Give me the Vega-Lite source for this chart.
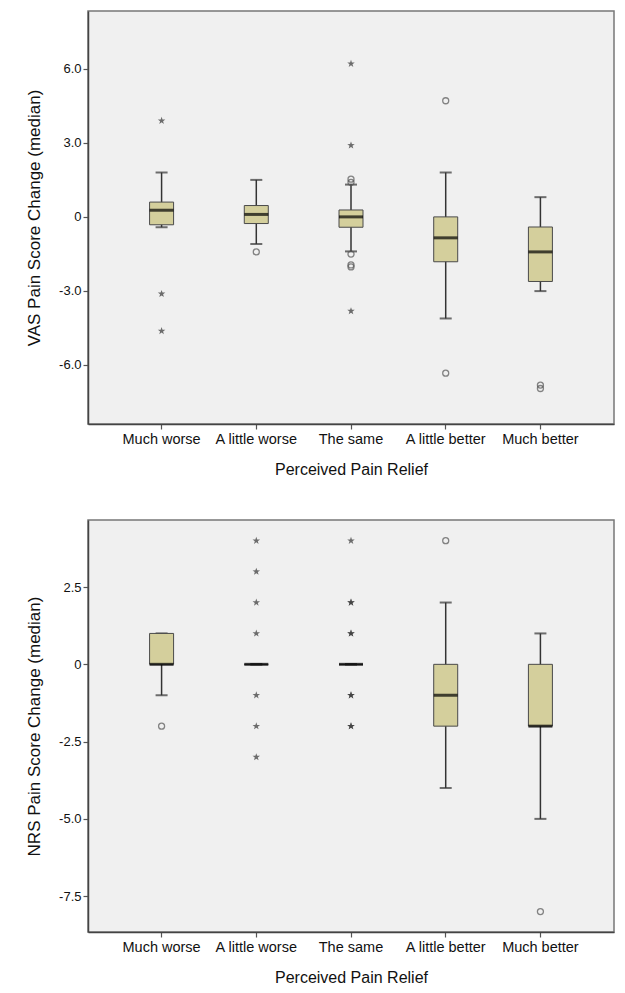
{
  "$schema": "https://vega.github.io/schema/vega-lite/v6.json",
  "background": "white",
  "padding": {"left": 24, "top": 10, "right": 5, "bottom": 5},
  "datasets": {
    "vasBox": [
      {"cat": "Much worse", "lo": -0.42, "q1": -0.32, "med": 0.27, "q3": 0.6, "hi": 1.8},
      {"cat": "A little worse", "lo": -1.1, "q1": -0.27, "med": 0.1, "q3": 0.46, "hi": 1.5},
      {"cat": "The same", "lo": -1.4, "q1": -0.42, "med": 0.0, "q3": 0.28, "hi": 1.31},
      {"cat": "A little better", "lo": -4.12, "q1": -1.82, "med": -0.85, "q3": 0.0, "hi": 1.8},
      {"cat": "Much better", "lo": -3.01, "q1": -2.62, "med": -1.42, "q3": -0.41, "hi": 0.8}
    ],
    "vasOut": [
      {"cat": "Much worse", "v": 3.9, "kind": "star"},
      {"cat": "Much worse", "v": -3.12, "kind": "star"},
      {"cat": "Much worse", "v": -4.63, "kind": "star"},
      {"cat": "A little worse", "v": -1.42, "kind": "circle"},
      {"cat": "The same", "v": 6.21, "kind": "star"},
      {"cat": "The same", "v": 2.9, "kind": "star"},
      {"cat": "The same", "v": 1.53, "kind": "circle"},
      {"cat": "The same", "v": 1.4, "kind": "circle"},
      {"cat": "The same", "v": -1.51, "kind": "circle"},
      {"cat": "The same", "v": -1.95, "kind": "circle"},
      {"cat": "The same", "v": -2.03, "kind": "circle"},
      {"cat": "The same", "v": -3.82, "kind": "star"},
      {"cat": "A little better", "v": 4.71, "kind": "circle"},
      {"cat": "A little better", "v": -6.34, "kind": "circle"},
      {"cat": "Much better", "v": -6.82, "kind": "circle"},
      {"cat": "Much better", "v": -6.96, "kind": "circle"}
    ],
    "nrsBox": [
      {"cat": "Much worse", "lo": -1, "q1": 0, "med": 0, "q3": 1, "hi": 1},
      {"cat": "A little worse", "lo": 0, "q1": 0, "med": 0, "q3": 0, "hi": 0},
      {"cat": "The same", "lo": 0, "q1": 0, "med": 0, "q3": 0, "hi": 0},
      {"cat": "A little better", "lo": -4, "q1": -2, "med": -1, "q3": 0, "hi": 2},
      {"cat": "Much better", "lo": -5, "q1": -2, "med": -2, "q3": 0, "hi": 1}
    ],
    "nrsOut": [
      {"cat": "Much worse", "v": -2, "kind": "circle"},
      {"cat": "A little worse", "v": 4, "kind": "star"},
      {"cat": "A little worse", "v": 3, "kind": "star"},
      {"cat": "A little worse", "v": 2, "kind": "star"},
      {"cat": "A little worse", "v": 1, "kind": "star"},
      {"cat": "A little worse", "v": -1, "kind": "star"},
      {"cat": "A little worse", "v": -2, "kind": "star"},
      {"cat": "A little worse", "v": -3, "kind": "star"},
      {"cat": "The same", "v": 4, "kind": "star"},
      {"cat": "The same", "v": 2, "kind": "star"},
      {"cat": "The same", "v": 2, "kind": "star"},
      {"cat": "The same", "v": 1, "kind": "star"},
      {"cat": "The same", "v": 1, "kind": "star"},
      {"cat": "The same", "v": -1, "kind": "star"},
      {"cat": "The same", "v": -1, "kind": "star"},
      {"cat": "The same", "v": -2, "kind": "star"},
      {"cat": "The same", "v": -2, "kind": "star"},
      {"cat": "A little better", "v": 4, "kind": "circle"},
      {"cat": "Much better", "v": -8, "kind": "circle"}
    ]
  },
  "config": {
    "font": "Liberation Sans",
    "view": {"fill": "#f0f0f0", "stroke": "#777777", "strokeWidth": 1.5},
    "concat": {"spacing": 40},
    "axis": {
      "domainColor": "#444444",
      "domainWidth": 1.5,
      "tickColor": "#555555",
      "tickSize": 5,
      "tickWidth": 1.2,
      "labelColor": "#111111",
      "titleColor": "#111111",
      "titleFontWeight": "normal",
      "grid": false
    },
    "axisX": {"labelFontSize": 14.5, "labelPadding": 3, "titleFontSize": 16, "titlePadding": 16, "labelAngle": 0},
    "axisY": {"labelFontSize": 13, "labelPadding": 2, "titleFontSize": 17, "titlePadding": 15}
  },
  "vconcat": [
    {
      "width": 526,
      "height": 413,
      "data": {"name": "vasBox"},
      "encoding": {
        "x": {
          "field": "cat", "type": "nominal", "sort": null,
          "scale": {"domain": ["Much worse", "A little worse", "The same", "A little better", "Much better"], "paddingInner": 0, "paddingOuter": 0.277},
          "axis": {"title": "Perceived Pain Relief"}
        }
      },
      "layer": [
        {
          "mark": {"type": "rule", "color": "#333333", "strokeWidth": 1.5},
          "encoding": {
            "y": {"field": "lo", "type": "quantitative", "scale": {"domain": [-8.4, 8.35], "nice": false, "zero": false},
              "axis": {"title": "VAS Pain Score Change (median)", "values": [-6, -3, 0, 3, 6], "labelExpr": "datum.value == 0 ? '0' : replace(format(datum.value, '.1f'), '\u2212', '-')"}},
            "y2": {"field": "hi"}
          }
        },
        {
          "mark": {"type": "tick", "color": "#333333", "thickness": 2, "size": 12},
          "encoding": {"y": {"field": "lo", "type": "quantitative"}}
        },
        {
          "mark": {"type": "tick", "color": "#333333", "thickness": 2, "size": 12},
          "encoding": {"y": {"field": "hi", "type": "quantitative"}}
        },
        {
          "mark": {"type": "bar", "width": 24, "fill": "#d4cf9c", "stroke": "#4a4a4a", "strokeWidth": 1},
          "encoding": {"y": {"field": "q1", "type": "quantitative"}, "y2": {"field": "q3"}}
        },
        {
          "mark": {"type": "tick", "color": "#000000", "thickness": 3, "size": 24},
          "encoding": {"y": {"field": "med", "type": "quantitative"}}
        },
        {
          "data": {"name": "vasOut"},
          "transform": [{"filter": "datum.kind == 'circle'"}],
          "mark": {"type": "point", "shape": "circle", "size": 36, "filled": false, "stroke": "#555555", "strokeWidth": 1.3},
          "encoding": {"y": {"field": "v", "type": "quantitative"}}
        },
        {
          "data": {"name": "vasOut"},
          "transform": [{"filter": "datum.kind == 'star'"}],
          "mark": {"type": "point", "shape": "M0,-1L0.235,-0.324L0.951,-0.309L0.38,0.124L0.588,0.809L0,0.4L-0.588,0.809L-0.38,0.124L-0.951,-0.309L-0.235,-0.324Z", "size": 62, "filled": true, "fill": "#333333", "strokeWidth": 0},
          "encoding": {"y": {"field": "v", "type": "quantitative"}}
        }
      ]
    },
    {
      "width": 526,
      "height": 412,
      "data": {"name": "nrsBox"},
      "encoding": {
        "x": {
          "field": "cat", "type": "nominal", "sort": null,
          "scale": {"domain": ["Much worse", "A little worse", "The same", "A little better", "Much better"], "paddingInner": 0, "paddingOuter": 0.277},
          "axis": {"title": "Perceived Pain Relief"}
        }
      },
      "layer": [
        {
          "mark": {"type": "rule", "color": "#333333", "strokeWidth": 1.5},
          "encoding": {
            "y": {"field": "lo", "type": "quantitative", "scale": {"domain": [-8.66, 4.67], "nice": false, "zero": false},
              "axis": {"title": "NRS Pain Score Change (median)", "values": [-7.5, -5, -2.5, 0, 2.5], "labelExpr": "datum.value == 0 ? '0' : replace(format(datum.value, '.1f'), '\u2212', '-')"}},
            "y2": {"field": "hi"}
          }
        },
        {
          "mark": {"type": "tick", "color": "#333333", "thickness": 2, "size": 12},
          "encoding": {"y": {"field": "lo", "type": "quantitative"}}
        },
        {
          "mark": {"type": "tick", "color": "#333333", "thickness": 2, "size": 12},
          "encoding": {"y": {"field": "hi", "type": "quantitative"}}
        },
        {
          "mark": {"type": "bar", "width": 24, "fill": "#d4cf9c", "stroke": "#4a4a4a", "strokeWidth": 1},
          "encoding": {"y": {"field": "q1", "type": "quantitative"}, "y2": {"field": "q3"}}
        },
        {
          "mark": {"type": "tick", "color": "#000000", "thickness": 3, "size": 24},
          "encoding": {"y": {"field": "med", "type": "quantitative"}}
        },
        {
          "data": {"name": "nrsOut"},
          "transform": [{"filter": "datum.kind == 'circle'"}],
          "mark": {"type": "point", "shape": "circle", "size": 36, "filled": false, "stroke": "#555555", "strokeWidth": 1.3},
          "encoding": {"y": {"field": "v", "type": "quantitative"}}
        },
        {
          "data": {"name": "nrsOut"},
          "transform": [{"filter": "datum.kind == 'star'"}],
          "mark": {"type": "point", "shape": "M0,-1L0.235,-0.324L0.951,-0.309L0.38,0.124L0.588,0.809L0,0.4L-0.588,0.809L-0.38,0.124L-0.951,-0.309L-0.235,-0.324Z", "size": 62, "filled": true, "fill": "#333333", "strokeWidth": 0},
          "encoding": {"y": {"field": "v", "type": "quantitative"}}
        }
      ]
    }
  ]
}
